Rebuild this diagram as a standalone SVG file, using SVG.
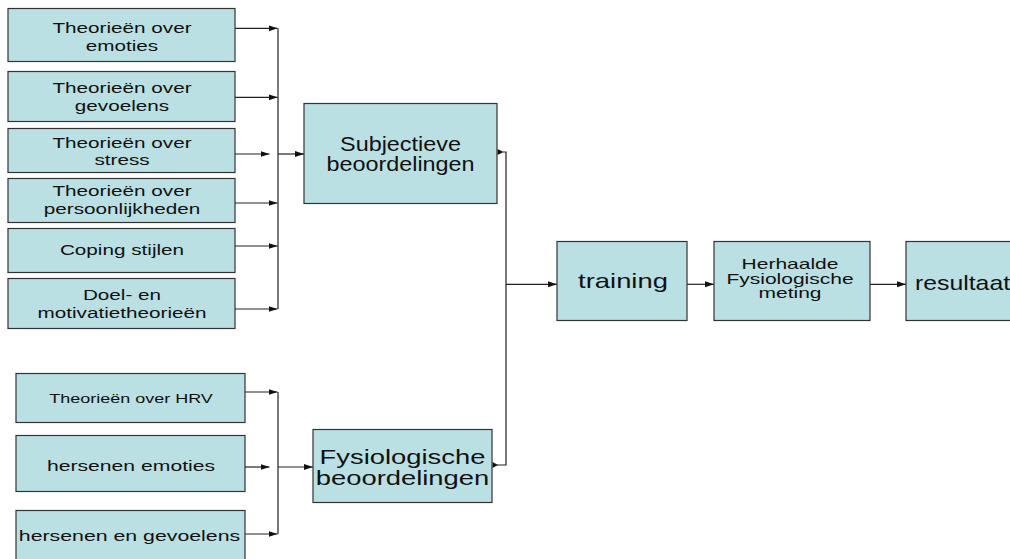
<svg xmlns="http://www.w3.org/2000/svg" width="1010" height="559" viewBox="0 0 1010 559">
<defs>
<style>
.box{fill:#bbe0e3;stroke:#333;stroke-width:1.2}
.t{font-family:"Liberation Sans",Arial,sans-serif;fill:#111;text-anchor:middle}
.ts{font-family:"Liberation Sans",Arial,sans-serif;fill:#111;text-anchor:start}
.c{fill:none;stroke:#222;stroke-width:1.2}
.ah{fill:#111}
</style>
<marker id="arr" markerUnits="userSpaceOnUse" markerWidth="10" markerHeight="7" refX="9" refY="3" orient="auto">
<path d="M0,0 L9,3 L0,6 z" fill="#111"/>
</marker>
</defs>
<rect width="1010" height="559" fill="#fff"/>

<g id="connectors">
<path class="c" d="M235,28.3 H277.5" marker-end="url(#arr)"/>
<path class="c" d="M235,97.3 H277.5" marker-end="url(#arr)"/>
<path class="c" d="M235,154 H269.5" marker-end="url(#arr)"/>
<path class="c" d="M235,203 H277.5" marker-end="url(#arr)"/>
<path class="c" d="M235,246 H277.5" marker-end="url(#arr)"/>
<path class="c" d="M235,309 H277.5" marker-end="url(#arr)"/>
<path class="c" d="M278,28.3 V309"/>
<path class="c" d="M278,154 H304" marker-end="url(#arr)"/>

<path class="c" d="M245,392 H277.5" marker-end="url(#arr)"/>
<path class="c" d="M245,467 H269.5" marker-end="url(#arr)"/>
<path class="c" d="M245,534 H277.5" marker-end="url(#arr)"/>
<path class="c" d="M278,392 V534"/>
<path class="c" d="M278,467 H313" marker-end="url(#arr)"/>

<path class="c" d="M503,152 H506 V465 H497"/>
<polygon class="ah" points="497.5,149 503.5,152 497.5,155"/>
<polygon class="ah" points="492.5,462 498,465 492.5,468"/>
<path class="c" d="M506,284.3 H557" marker-end="url(#arr)"/>
<path class="c" d="M687,284.3 H714" marker-end="url(#arr)"/>
<path class="c" d="M870,284.3 H906" marker-end="url(#arr)"/>
</g>

<g id="n-emoties">
<rect class="box" x="8" y="8.5" width="227" height="53"/>
<text class="t" font-size="15" transform="translate(122,0) scale(1.38,1)"><tspan x="0" y="32.7">Theorieën over</tspan><tspan x="0" y="51">emoties</tspan></text>
</g>
<g id="n-gevoelens">
<rect class="box" x="8" y="71.5" width="227" height="50"/>
<text class="t" font-size="15" transform="translate(122,0) scale(1.38,1)"><tspan x="0" y="93">Theorieën over</tspan><tspan x="0" y="111.5">gevoelens</tspan></text>
</g>
<g id="n-stress">
<rect class="box" x="8" y="128.5" width="227" height="44"/>
<text class="t" font-size="15" transform="translate(122,0) scale(1.38,1)"><tspan x="0" y="148.3">Theorieën over</tspan><tspan x="0" y="165.5">stress</tspan></text>
</g>
<g id="n-persoonlijkheden">
<rect class="box" x="8" y="178.5" width="227" height="44"/>
<text class="t" font-size="15" transform="translate(122,0) scale(1.38,1)"><tspan x="0" y="196.5">Theorieën over</tspan><tspan x="0" y="214.5">persoonlijkheden</tspan></text>
</g>
<g id="n-coping">
<rect class="box" x="8" y="228.5" width="227" height="44"/>
<text class="t" font-size="15" transform="translate(122,0) scale(1.38,1)"><tspan x="0" y="255">Coping stijlen</tspan></text>
</g>
<g id="n-doel">
<rect class="box" x="8" y="278.5" width="227" height="50"/>
<text class="t" font-size="15" transform="translate(122,0) scale(1.38,1)"><tspan x="0" y="300">Doel- en</tspan><tspan x="0" y="318.3">motivatietheorieën</tspan></text>
</g>

<g id="n-hrv">
<rect class="box" x="16" y="373.5" width="229" height="49"/>
<text class="t" font-size="12.5" transform="translate(131,403) scale(1.44,1)">Theorieën over HRV</text>
</g>
<g id="n-hersenen-emoties">
<rect class="box" x="16" y="435.5" width="229" height="56"/>
<text class="t" font-size="15" transform="translate(131,471) scale(1.41,1)">hersenen emoties</text>
</g>
<g id="n-hersenen-gevoelens">
<rect class="box" x="16" y="510.5" width="229" height="60"/>
<text class="t" font-size="15" transform="translate(129.5,540.7) scale(1.42,1)">hersenen en gevoelens</text>
</g>

<g id="n-subjectieve">
<rect class="box" x="304" y="103.5" width="193" height="100"/>
<text class="t" font-size="19.5" transform="translate(400.5,0) scale(1.2,1)"><tspan x="0" y="151">Subjectieve</tspan><tspan x="0" y="171.5">beoordelingen</tspan></text>
</g>
<g id="n-fysiologische">
<rect class="box" x="313" y="429.5" width="179" height="73"/>
<text class="t" font-size="20" transform="translate(402.5,0) scale(1.37,1)"><tspan x="0" y="464.5">Fysiologische</tspan><tspan x="0" y="485.5">beoordelingen</tspan></text>
</g>
<g id="n-training">
<rect class="box" x="557" y="241.5" width="130" height="79"/>
<text class="t" font-size="20" transform="translate(623,288) scale(1.37,1)">training</text>
</g>
<g id="n-herhaalde">
<rect class="box" x="714" y="241.5" width="156" height="79"/>
<text class="t" font-size="14" transform="translate(790,0) scale(1.5,1)"><tspan x="0" y="269.3">Herhaalde</tspan><tspan x="0" y="283.8">Fysiologische</tspan><tspan x="0" y="298">meting</tspan></text>
</g>
<g id="n-resultaat">
<rect class="box" x="906" y="241.5" width="130" height="79"/>
<text class="ts" font-size="20" transform="translate(915,290) scale(1.24,1)">resultaat</text>
</g>
</svg>
